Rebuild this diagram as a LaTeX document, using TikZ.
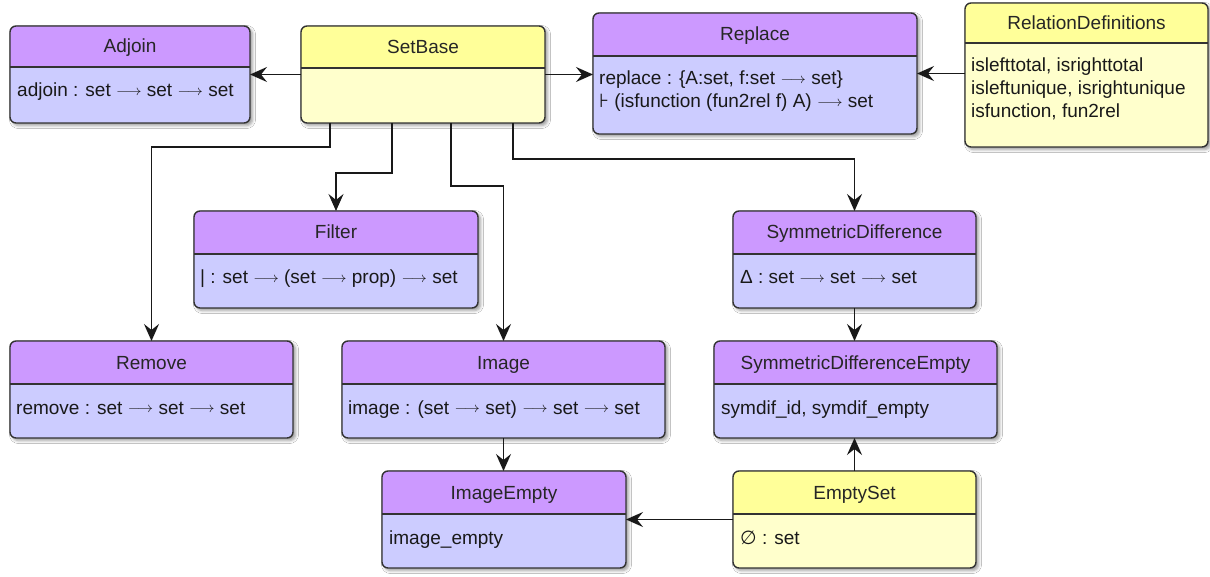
\documentclass[tikz,border=0pt]{standalone}
\usepackage{graphicx}
\usepackage{fontspec}
\setmainfont{Liberation Sans}
\newfontfamily\dejavu{DejaVu Sans}
\usetikzlibrary{fit,shadows.blur,arrows.meta}

\definecolor{purplehead}{RGB}{204,153,255}
\definecolor{purplebody}{RGB}{204,204,255}
\definecolor{yellowhead}{RGB}{255,255,153}
\definecolor{yellowbody}{RGB}{255,255,204}
\definecolor{edge}{RGB}{51,51,51}

\tikzset{
  classframe/.style={inner sep=0pt, outer sep=0pt, rounded corners=6pt,
    blur shadow={shadow xshift=2.5pt, shadow yshift=-2.5pt,
                 shadow blur radius=3pt, shadow opacity=40}},
  classborder/.style={draw=edge, line width=1.4pt, rounded corners=6pt},
  classrule/.style={draw=edge, line width=1.4pt},
  titletext/.style={font=\fontsize{19}{23}\selectfont, inner sep=0pt,
    text height=13pt, text depth=0pt, text=black!85},
  bodytext/.style={font=\fontsize{19}{23}\selectfont, inner sep=0pt,
    anchor=base west, text=black!90},
  conn/.style={draw=black!90, line width=1.4pt,
    -{Stealth[length=17pt,width=15pt,inset=6pt]}},
}

% A class box: name, left, top, right, bottom, header rule y, scheme, title
\newcommand\umlclass[8]{%
  \coordinate (#1-nw) at (#2,#3);
  \coordinate (#1-se) at (#4,#5);
  \node[classframe, fill=#7body, fit=(#1-nw)(#1-se)] (#1) {};
  \begin{scope}
    \clip[rounded corners=6pt] (#1.south west) rectangle (#1.north east);
    \fill[#7head] (#1.north west) rectangle (#4,#6);
  \end{scope}
  \draw[classborder] (#1.south west) rectangle (#1.north east);
  \draw[classrule] (#2,#6) -- (#4,#6);
  \node[titletext] (#1-title) at ({(#2+#4)/2},{(#3+#6)/2}) {#8};
}
% One line of a class body: name, x, baseline y, text
\newcommand\classtext[4]{\node[bodytext] (#1) at (#2,#3) {#4};}
% thin long function arrow used in the signatures
\newcommand\arr{\raisebox{1.3pt}{\scalebox{1.1}[1]{\fontsize{14}{16}\selectfont$\longrightarrow$}}}

\begin{document}
\begin{tikzpicture}[x=1pt,y=-1pt]
  \useasboundingbox[fill=white] (0,0) rectangle (1210,577);

  \umlclass{adjoin}{10}{26}{250}{123}{67}{purple}{Adjoin}
  \classtext{adjoin-l1}{17}{97}{adjoin : set \arr{} set \arr{} set}

  \umlclass{setbase}{301}{26}{545}{123}{68}{yellow}{SetBase}

  \umlclass{replace}{593}{13}{917}{134}{56}{purple}{Replace}
  \classtext{replace-l1}{599}{85}{replace : \{A:set, f:set \arr{} set\}}
  \classtext{replace-l2}{599}{108}{{\dejavu ⊦} (isfunction (fun2rel f) A) \arr{} set}

  \umlclass{reldef}{965}{3}{1208}{147}{43}{yellow}{RelationDefinitions}
  \classtext{reldef-l1}{971}{72}{islefttotal, isrighttotal}
  \classtext{reldef-l2}{971}{95}{isleftunique, isrightunique}
  \classtext{reldef-l3}{971}{118}{isfunction, fun2rel}

  \umlclass{filter}{194}{211}{478}{308}{254}{purple}{Filter}
  \classtext{filter-l1}{200}{284}{| : set \arr{} (set \arr{} prop) \arr{} set}

  \umlclass{symdiff}{733}{211}{976}{308}{254}{purple}{SymmetricDifference}
  \classtext{symdiff-l1}{740}{284}{Δ : set \arr{} set \arr{} set}

  \umlclass{remove}{10}{341}{293}{438}{384}{purple}{Remove}
  \classtext{remove-l1}{16}{414}{remove : set \arr{} set \arr{} set}

  \umlclass{image}{342}{341}{665}{438}{384}{purple}{Image}
  \classtext{image-l1}{348}{414}{image : (set \arr{} set) \arr{} set \arr{} set}

  \umlclass{sde}{714}{341}{997}{438}{384}{purple}{SymmetricDifferenceEmpty}
  \classtext{sde-l1}{721}{414}{symdif\_id, symdif\_empty}

  \umlclass{imgempty}{382}{471}{626}{568}{514}{purple}{ImageEmpty}
  \classtext{imgempty-l1}{389}{544}{image\_empty}

  \umlclass{emptyset}{733}{471}{976}{568}{514}{yellow}{EmptySet}
  \classtext{emptyset-l1}{740}{544}{{\dejavu ∅} : set}

  % dependencies
  \draw[conn] (setbase.west) -- (setbase.west -| adjoin.east);
  \draw[conn] (setbase.east) -- (setbase.east -| replace.west);
  \draw[conn] (reldef.west |- replace.east) -- (replace.east);
  \draw[conn] ([xshift=29pt]setbase.south west) -- ++(0,24) -| (remove.north);
  \draw[conn] ([xshift=91pt]setbase.south west) -- ++(0,50) -| (filter.north);
  \draw[conn] ([xshift=150pt]setbase.south west) -- ++(0,63) -| (image.north);
  \draw[conn] ([xshift=212pt]setbase.south west) -- ++(0,36) -| (symdiff.north);
  \draw[conn] (symdiff.south) -- (symdiff.south |- sde.north);
  \draw[conn] (emptyset.north) -- (emptyset.north |- sde.south);
  \draw[conn] (image.south) -- (image.south |- imgempty.north);
  \draw[conn] (emptyset.west) -- (imgempty.east);
\end{tikzpicture}
\end{document}
